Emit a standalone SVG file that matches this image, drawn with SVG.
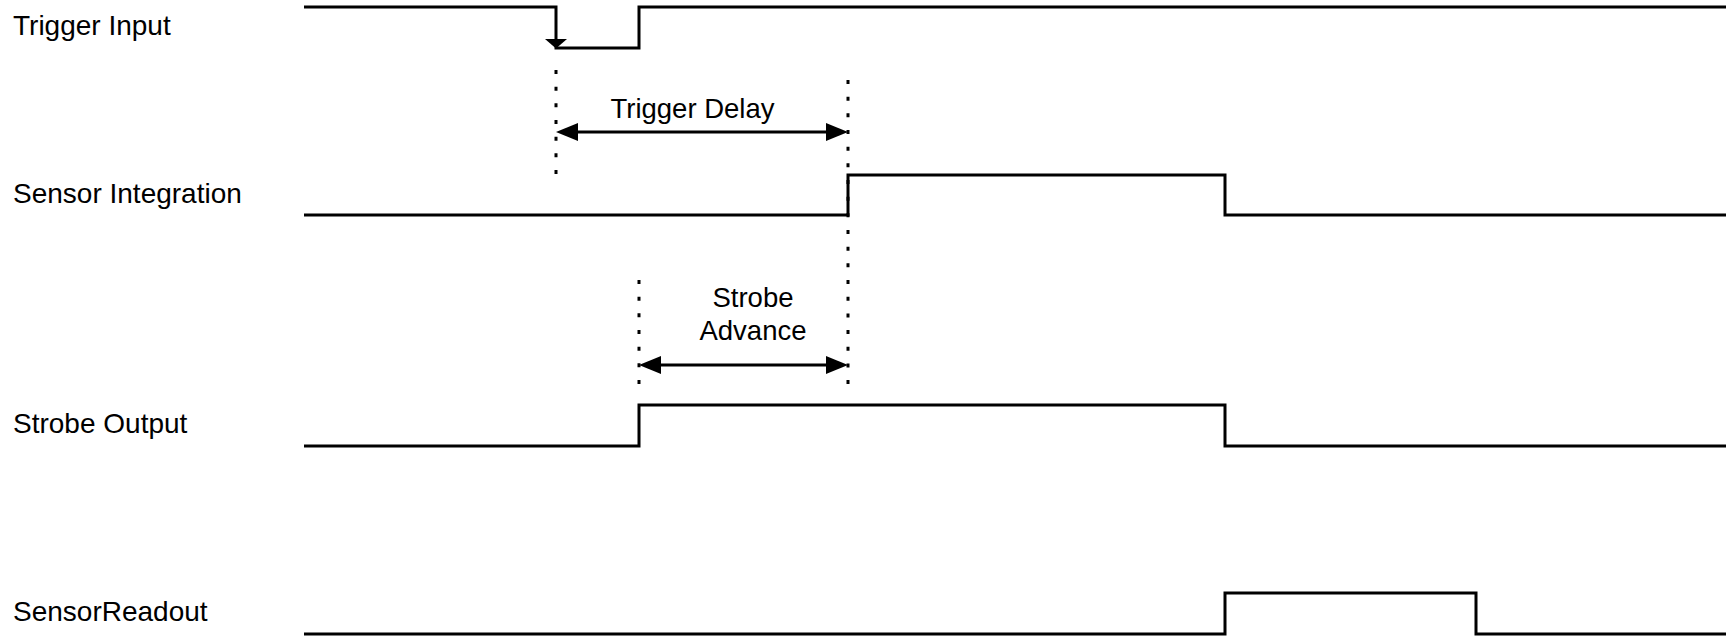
<svg xmlns="http://www.w3.org/2000/svg" width="1726" height="636" viewBox="0 0 1726 636">
<style>
.lbl{font-family:"Liberation Sans",Arial,sans-serif;font-size:27.5px;fill:#000}
.side{font-size:28px}
.sig{fill:none;stroke:#000;stroke-width:3;stroke-linejoin:miter;stroke-linecap:butt}
.dot{fill:none;stroke:#000;stroke-width:3;stroke-dasharray:4 12.67}
.dim{fill:none;stroke:#000;stroke-width:3}
.head{fill:#000;stroke:none}
</style>
<rect width="1726" height="636" fill="#fff"/>
<g id="trigger-input">
<text class="lbl side" x="13" y="35">Trigger Input</text>
<polyline class="sig" points="304,7 556,7 556,48 639,48 639,7 1726,7"/>
<polygon class="head" points="545,39 567,39 556,48.5"/>
</g>
<g id="sensor-integration">
<text class="lbl side" x="13" y="203">Sensor Integration</text>
<polyline class="sig" points="304,215 848,215 848,175 1225,175 1225,215 1726,215"/>
</g>
<g id="strobe-output">
<text class="lbl side" x="13" y="433">Strobe Output</text>
<polyline class="sig" points="304,446 639,446 639,405 1225,405 1225,446 1726,446"/>
</g>
<g id="sensor-readout">
<text class="lbl side" x="13" y="621">SensorReadout</text>
<polyline class="sig" points="304,634 1225,634 1225,593 1476,593 1476,634 1726,634"/>
</g>
<g id="connectors">
<line class="dot" x1="556" y1="70" x2="556" y2="175"/>
<line class="dot" x1="848" y1="80" x2="848" y2="386"/>
<line class="dot" x1="639" y1="280" x2="639" y2="386"/>
<g id="trigger-delay">
<line class="dim" x1="570" y1="132" x2="834" y2="132"/>
<polygon class="head" points="556,132 578,123 578,141"/>
<polygon class="head" points="848,132 826,123 826,141"/>
<text class="lbl" x="692.5" y="118" text-anchor="middle">Trigger Delay</text>
</g>
<g id="strobe-advance">
<line class="dim" x1="653" y1="365" x2="834" y2="365"/>
<polygon class="head" points="639,365 661,356 661,374"/>
<polygon class="head" points="848,365 826,356 826,374"/>
<text class="lbl" x="753" y="307" text-anchor="middle">Strobe</text>
<text class="lbl" x="753" y="340" text-anchor="middle">Advance</text>
</g>
</g>
</svg>
